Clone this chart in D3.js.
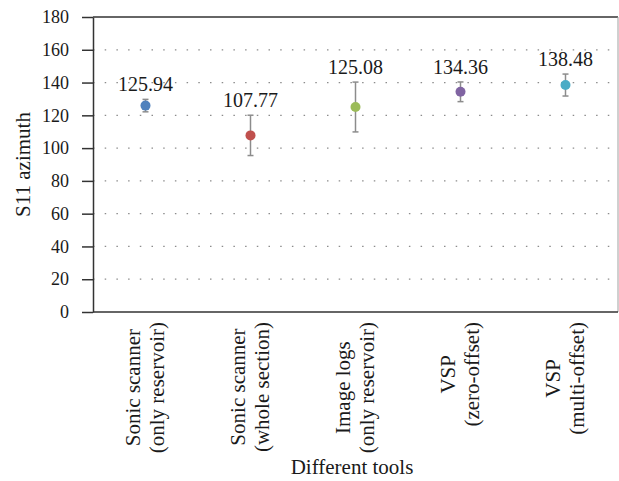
<!DOCTYPE html>
<html>
<head>
<meta charset="utf-8">
<script src="https://cdn.jsdelivr.net/npm/d3@7"></script>
<style>
  html, body { margin: 0; padding: 0; background: #fff; }
  svg { display: block; }
  text { font-family: "Liberation Serif", "Times New Roman", serif; fill: #1a1a1a; }
</style>
</head>
<body>
<svg id="chart" width="619" height="481" font-family="Liberation Serif, serif"></svg>
<script>
// ---- data ----
const categories = [
  ["Sonic scanner", "(only reservoir)"],
  ["Sonic scanner", "(whole section)"],
  ["Image logs", "(only reservoir)"],
  ["VSP", "(zero-offset)"],
  ["VSP", "(multi-offset)"]
];
const values = [125.94, 107.77, 125.08, 134.36, 138.48];
const errors = [3.8, 12.3, 15.2, 6.0, 6.7];
const yTicks = [0, 20, 40, 60, 80, 100, 120, 140, 160, 180];
const colors = ["#4F81BD", "#C0504D", "#9BBB59", "#8064A2", "#4BACC6"];
const yTitle = "S11 azimuth";
const xTitle = "Different tools";

(function () {
// ---- layout ----
const pL = 93, pR = 618, pT = 17, pB = 312;
const svg = d3.select("#chart");
const keys = categories.map((c, i) => i);

const x = d3.scalePoint().domain(keys).range([pL, pR]).padding(0.5);
const y = d3.scaleLinear().domain([0, 180]).range([pB, pT]);

// gridlines (dotted)
svg.append("g").selectAll("line")
  .data(yTicks.filter(t => t > 0 && t < 180))
  .join("line")
  .attr("x1", pL).attr("x2", pR)
  .attr("y1", d => y(d)).attr("y2", d => y(d))
  .attr("stroke", "#8c8c8c")
  .attr("stroke-width", 1.3)
  .attr("stroke-dasharray", "1.5,10.2");

// top border and right border
svg.append("line").attr("x1", pL).attr("x2", pR)
  .attr("y1", y(180)).attr("y2", y(180))
  .attr("stroke", "#333").attr("stroke-width", 1.5);
svg.append("line").attr("x1", pR).attr("x2", pR)
  .attr("y1", y(180)).attr("y2", y(0))
  .attr("stroke", "#a0a0a0").attr("stroke-width", 1);

// y axis
const yAxis = svg.append("g")
  .attr("transform", `translate(${pL},0)`)
  .call(d3.axisLeft(y).tickValues(yTicks).tickSize(11).tickSizeOuter(0).tickPadding(13));
yAxis.attr("font-family", "Liberation Serif, serif").attr("font-size", 18);
yAxis.select(".domain").attr("stroke", "#333").attr("stroke-width", 1.5);
yAxis.selectAll(".tick line").attr("stroke", "#333").attr("stroke-width", 1.5);
yAxis.selectAll(".tick text")
  .style("font-family", '"Liberation Serif", serif')
  .style("font-size", "18px")
  .attr("fill", "#1a1a1a");

// x axis line
svg.append("line").attr("x1", pL).attr("x2", pR)
  .attr("y1", y(0)).attr("y2", y(0))
  .attr("stroke", "#333").attr("stroke-width", 1.5);

// error bars
const eb = svg.append("g").attr("stroke", "#8c8c8c").attr("stroke-width", 1.5);
keys.forEach(i => {
  const cx = x(i), y1 = y(values[i] + errors[i]), y2 = y(values[i] - errors[i]);
  eb.append("line").attr("x1", cx).attr("x2", cx).attr("y1", y1).attr("y2", y2);
  eb.append("line").attr("x1", cx - 3).attr("x2", cx + 3).attr("y1", y1).attr("y2", y1);
  eb.append("line").attr("x1", cx - 3).attr("x2", cx + 3).attr("y1", y2).attr("y2", y2);
});

// points
svg.append("g").selectAll("circle")
  .data(keys)
  .join("circle")
  .attr("cx", i => x(i))
  .attr("cy", i => y(values[i]))
  .attr("r", 5)
  .attr("fill", i => colors[i]);

// value labels
svg.append("g").selectAll("text")
  .data(keys)
  .join("text")
  .attr("x", i => x(i))
  .attr("y", i => y(values[i] + errors[i]) - 8)
  .attr("text-anchor", "middle")
  .style("font-size", "20px")
  .text(i => values[i].toFixed(2));

// category labels (rotated, two lines)
keys.forEach(i => {
  const g = svg.append("g")
    .attr("transform", `translate(${x(i)},322) rotate(-90)`);
  const lines = categories[i];
  const texts = lines.map((ln, j) => g.append("text")
    .attr("text-anchor", "middle")
    .attr("y", j === 0 ? -6 : 18)
    .style("font-size", "21px")
    .text(ln));
  const L = d3.max(texts, t => t.node().getComputedTextLength());
  texts.forEach(t => t.attr("x", -L / 2));
});

// axis titles
svg.append("text")
  .attr("transform", `translate(30,${(pT + pB) / 2}) rotate(-90)`)
  .attr("text-anchor", "middle")
  .style("font-size", "21px")
  .text(yTitle);

svg.append("text")
  .attr("x", 352).attr("y", 474)
  .attr("text-anchor", "middle")
  .style("font-size", "21px")
  .text(xTitle);
})();
</script>
</body>
</html>
